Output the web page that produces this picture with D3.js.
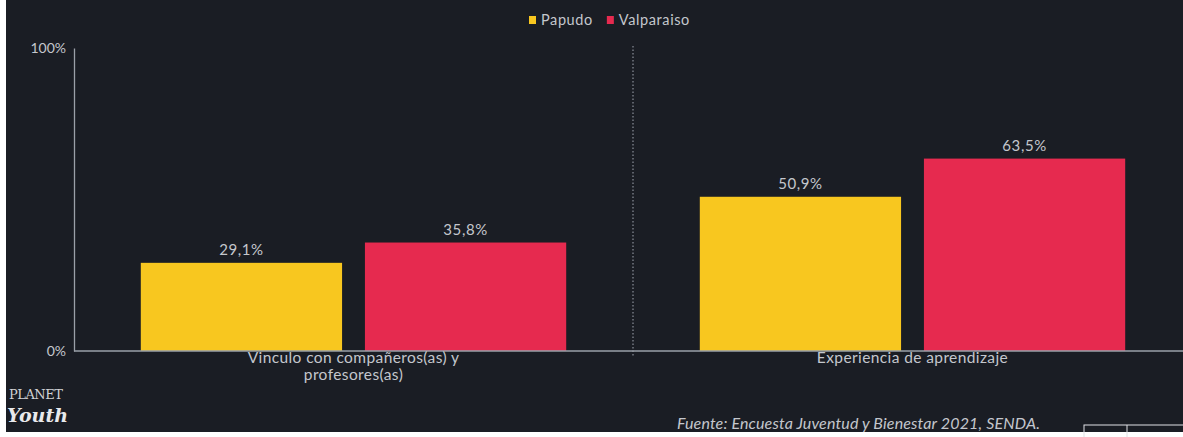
<!DOCTYPE html>
<html>
<head>
<meta charset="utf-8">
<script src="https://cdn.jsdelivr.net/npm/d3@7"></script>
<style>
  html, body { margin: 0; padding: 0; background: #ffffff; }
  svg { display: block; }
</style>
</head>
<body>
<svg id="chart" width="1183" height="437"></svg>
<script>
// Chart data
const categories = [["Vinculo con compañeros(as) y", "profesores(as)"], ["Experiencia de aprendizaje"]];
const seriesNames = ["Papudo", "Valparaiso"];
const papudo = [29.1, 50.9];
const valparaiso = [35.8, 63.5];
const yTickValues = [0, 100];
const yTickLabels = ["0%", "100%"];
const sourceText = "Fuente: Encuesta Juventud y Bienestar 2021, SENDA.";

const colors = { Papudo: "#f8c71f", Valparaiso: "#e62a4f" };
const bg = "#1a1d24";
const textColor = "#c4c7cd";
const font = "Lato, 'Open Sans', sans-serif";

const W = 1183, H = 437;
const svg = d3.select("#chart");

// Page: dark panel with a thin white frame on the left and bottom
svg.append("rect").attr("width", W).attr("height", H).attr("fill", "#ffffff");
svg.append("rect").attr("x", 6).attr("y", 0).attr("width", W - 6).attr("height", 432).attr("fill", bg);

const plotLeft = 74, plotRight = 1192, y0 = 351, y1 = 48;

const x0 = d3.scaleBand().domain(d3.range(categories.length)).range([plotLeft, plotRight]).paddingInner(0).paddingOuter(0);
const x1 = d3.scaleBand().domain(seriesNames).range([0, x0.bandwidth()]).paddingInner(0.102).paddingOuter(0.298);
const y = d3.scaleLinear().domain([0, 100]).range([y0, y1]);

// Dotted separator between the two categories
svg.append("line")
  .attr("x1", x0(1)).attr("x2", x0(1))
  .attr("y1", 46).attr("y2", y0 + 6)
  .attr("stroke", "#8a8f99").attr("stroke-width", 1.2)
  .attr("stroke-dasharray", "1.5,2");

// Bars
const rows = seriesNames.map((s, si) => ({ name: s, values: si === 0 ? papudo : valparaiso }));
const g = svg.append("g");
rows.forEach(row => {
  row.values.forEach((v, ci) => {
    const bx = x0(ci) + x1(row.name);
    g.append("rect")
      .attr("x", bx).attr("y", y(v))
      .attr("width", x1.bandwidth()).attr("height", y(0) - y(v))
      .attr("fill", colors[row.name]);
    g.append("text")
      .attr("x", bx + x1.bandwidth() / 2).attr("y", y(v) - 8)
      .attr("text-anchor", "middle")
      .attr("font-family", font).attr("font-size", 15)
      .attr("letter-spacing", "0.6")
      .attr("fill", textColor)
      .text(v.toFixed(1).replace(".", ",") + "%");
  });
});

// Y axis
const yAxis = d3.axisLeft(y).tickValues(yTickValues).tickSize(0).tickPadding(8)
  .tickFormat((d, i) => yTickLabels[i]);
const ya = svg.append("g").attr("transform", `translate(${plotLeft},0)`).call(yAxis);
ya.select(".domain").attr("stroke", "#9aa0a8").attr("stroke-width", 1.3);
ya.selectAll("text").attr("font-family", font).attr("font-size", 14).attr("fill", textColor);

// Baseline
svg.append("line")
  .attr("x1", plotLeft).attr("x2", W)
  .attr("y1", y0).attr("y2", y0)
  .attr("stroke", "#9aa0a8").attr("stroke-width", 1.3);

// Category labels
categories.forEach((lines, ci) => {
  const t = svg.append("text")
    .attr("x", x0(ci) + x0.bandwidth() / 2)
    .attr("text-anchor", "middle")
    .attr("font-family", font).attr("font-size", 15.5)
    .attr("letter-spacing", "0.4")
    .attr("fill", textColor);
  lines.forEach((ln, li) => {
    t.append("tspan").attr("x", x0(ci) + x0.bandwidth() / 2).attr("y", 363 + li * 17).text(ln);
  });
});

// Legend
const legend = svg.append("g").attr("transform", "translate(529,20)");
let lx = 0;
seriesNames.forEach(s => {
  legend.append("rect").attr("x", lx).attr("y", -4).attr("width", 7).attr("height", 8).attr("fill", colors[s]);
  const t = legend.append("text").attr("x", lx + 12).attr("y", 4.5)
    .attr("font-family", font).attr("font-size", 14.5).attr("letter-spacing", "0.6")
    .attr("fill", textColor).text(s);
  lx += 12 + t.node().getComputedTextLength() + 14;
});

// Logo
svg.append("text").attr("x", 9).attr("y", 399)
  .attr("font-family", "'DejaVu Serif', serif").attr("font-size", 13)
  .attr("fill", "#d0d2d6").attr("letter-spacing", "-0.5").text("PLANET");
svg.append("text").attr("x", 7).attr("y", 422)
  .attr("font-family", "'DejaVu Serif', serif").attr("font-style", "italic").attr("font-weight", "bold")
  .attr("font-size", 19).attr("fill", "#e8e9eb").text("Youth");

// Source
svg.append("text").attr("x", 677).attr("y", 429)
  .attr("font-family", font).attr("font-style", "italic").attr("font-size", 16)
  .attr("letter-spacing", "0.15")
  .attr("fill", textColor).text(sourceText);

// Small table outline at the bottom right
svg.append("rect").attr("x", 1084).attr("y", 425).attr("width", 110).attr("height", 14)
  .attr("fill", "none").attr("stroke", "#e0e2e5").attr("stroke-width", 1);
svg.append("line").attr("x1", 1127).attr("x2", 1127).attr("y1", 425).attr("y2", 437)
  .attr("stroke", "#e0e2e5").attr("stroke-width", 1);
</script>
</body>
</html>
